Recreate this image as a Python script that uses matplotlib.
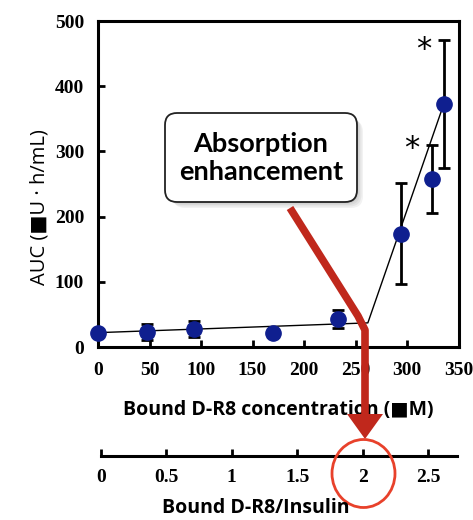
import matplotlib
matplotlib.use("Agg")
import matplotlib.pyplot as plt
from matplotlib.patches import FancyBboxPatch, Ellipse, Polygon

# ---- data ----
conc = [0, 48, 93, 170, 233, 294, 324, 336]          # bound D-R8 concentration (uM)
auc = [22, 23, 28, 21, 43, 174, 258, 373]            # AUC
auc_err = [5, 13, 12, 5, 14, 78, 52, 98]
trend_x = [0, 262, 336]
trend_y = [22, 37, 374]
sig_x = [305, 316]                                   # asterisk positions
sig_y = [304, 456]
x_ticks = [0, 50, 100, 150, 200, 250, 300, 350]
y_ticks = [0, 100, 200, 300, 400, 500]
ratio_ticks = [0, 0.5, 1, 1.5, 2, 2.5]
ratio_tick_labels = ["0", "0.5", "1", "1.5", "2", "2.5"]

W, H = 473, 520
fig = plt.figure(figsize=(W / 100, H / 100), dpi=100)

serif = "Liberation Serif"
sans = "Open Sans"

ax = fig.add_axes([98 / W, 1 - 347 / H, (458.5 - 98) / W, (347 - 21) / H])
ax.set_xlim(0, 350)
ax.set_ylim(0, 500)
ax.plot(trend_x, trend_y, color="black", lw=1.0, zorder=2)
ax.errorbar(conc, auc, yerr=auc_err, fmt="none", ecolor="black", elinewidth=2.0,
            capsize=4.3, capthick=2.0, zorder=3)
ax.plot(conc, auc, "o", color="#0f1f8f", markersize=11, zorder=4, clip_on=False)
for sx, sy in zip(sig_x, sig_y):
    ax.text(sx, sy, "*", fontsize=22, family="DejaVu Sans", ha="center", va="center")

for s in ax.spines.values():
    s.set_linewidth(2.2)
ax.set_xticks(x_ticks)
ax.set_yticks(y_ticks)
ax.tick_params(direction="in", length=5, width=2, pad=11, top=False, right=False)
for lab in ax.get_xticklabels() + ax.get_yticklabels():
    lab.set_fontfamily(serif)
    lab.set_fontweight("bold")
    lab.set_fontsize(14)
ax.tick_params(axis="y", pad=10)
ax.set_xlabel("Bound D-R8 concentration (\u25a0M)", fontsize=14, fontweight="bold",
              family=[sans, "DejaVu Sans"])
ax.xaxis.set_label_coords(0.5, -0.163)
ax.set_ylabel("AUC (\u25a0U \u00b7 h/mL)", fontsize=14.5, family=[sans, "DejaVu Sans"])
ax.yaxis.set_label_coords(-0.135, 0.43)

# secondary ratio axis
ax2 = fig.add_axes([100.7 / W, 1 - 456 / H, (457 - 100.7) / W, 0.001])
ax2.set_xlim(0, 2.72)
ax2.set_ylim(0, 1)
for k in ["top", "left", "right"]:
    ax2.spines[k].set_visible(False)
ax2.spines["bottom"].set_linewidth(2.2)
ax2.set_yticks([])
ax2.set_xticks(ratio_ticks)
ax2.set_xticklabels(ratio_tick_labels)
ax2.tick_params(axis="x", direction="in", length=5, width=2, pad=9)
for lab in ax2.get_xticklabels():
    lab.set_fontfamily(serif)
    lab.set_fontweight("bold")
    lab.set_fontsize(14)
ax2.patch.set_visible(False)

# overlay for annotations in pixel coordinates
ov = fig.add_axes([0, 0, 1, 1], zorder=10)
ov.set_xlim(0, W)
ov.set_ylim(H, 0)
ov.axis("off")
ov.patch.set_visible(False)

ov.text(256, 508, "Bound D-R8/Insulin", fontsize=14, fontweight="bold", family=sans,
        ha="center", va="center")

# shadow
for i in range(4):
    d = 1.5 + i * 1.5
    ov.add_patch(FancyBboxPatch((167 + d, 114 + d), 190, 88,
                                boxstyle="round,pad=0,rounding_size=12",
                                fc="black", ec="none", alpha=0.05))
ov.add_patch(FancyBboxPatch((165, 113), 192, 89, boxstyle="round,pad=0,rounding_size=12",
                            fc="white", ec="#222222", lw=1.3))
ov.text(261, 157.5, "Absorption\nenhancement", ha="center", va="center", fontsize=19.5,
        fontweight="bold", family="Lato", linespacing=1.2)

# red arrow
red = "#c0281c"
ov.plot([290, 358, 365, 365], [208, 316, 330, 418], color=red, lw=5.5,
        solid_capstyle="butt", solid_joinstyle="round")
ov.add_patch(Polygon([[347, 414], [383, 414], [365, 439]], closed=True, fc=red, ec="none"))

# red circle
ov.add_patch(Ellipse((363.5, 473.5), 63, 68, fc="none", ec="#e8412b", lw=2.0))

fig.savefig("out.png", dpi=100)
